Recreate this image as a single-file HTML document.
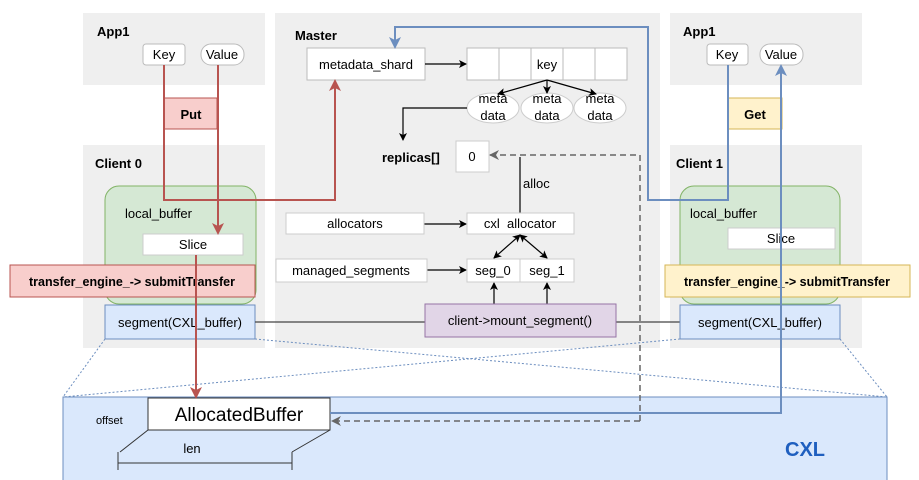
<!DOCTYPE html>
<html><head><meta charset="utf-8"><style>
html,body{margin:0;padding:0;background:#fff;width:919px;height:480px;overflow:hidden}
text{font-family:"Liberation Sans",sans-serif;font-size:13px;fill:#000}
.b{font-weight:bold}
</style></head><body>
<svg width="919" height="480" viewBox="0 0 919 480" xmlns="http://www.w3.org/2000/svg">
<defs>
<marker id="ak" markerWidth="8" markerHeight="8" refX="7" refY="4" orient="auto-start-reverse" markerUnits="userSpaceOnUse"><path d="M0,0 L8,4 L0,8 L2,4z" fill="#000"/></marker>
<marker id="ar" markerWidth="12" markerHeight="12" refX="10" refY="6" orient="auto" markerUnits="userSpaceOnUse"><path d="M0,0 L12,6 L0,12 L3,6z" fill="#b85450"/></marker>
<marker id="ab" markerWidth="12" markerHeight="12" refX="10" refY="6" orient="auto" markerUnits="userSpaceOnUse"><path d="M0,0 L12,6 L0,12 L3,6z" fill="#6c8ebf"/></marker>
<marker id="ag" markerWidth="10" markerHeight="10" refX="9" refY="5" orient="auto" markerUnits="userSpaceOnUse"><path d="M0,0 L10,5 L0,10 L3,5z" fill="#666"/></marker>
</defs>
<rect x="83" y="13" width="182" height="72" fill="#efefef"/>
<rect x="83" y="145" width="182" height="203" fill="#efefef"/>
<rect x="275" y="13" width="385" height="335" fill="#efefef"/>
<rect x="670" y="13" width="192" height="72" fill="#efefef"/>
<rect x="670" y="145" width="192" height="203" fill="#efefef"/>
<text x="97" y="36" class="b">App1</text>
<text x="95" y="168" class="b">Client 0</text>
<text x="295" y="40" class="b">Master</text>
<text x="683" y="36" class="b">App1</text>
<text x="676" y="168" class="b">Client 1</text>
<rect x="63" y="397" width="824" height="85" fill="#dae8fc" stroke="#6c8ebf"/>
<text x="785" y="456" style="font-size:20px;font-weight:bold;fill:#1f5fbf">CXL</text>
<g stroke="#6c8ebf" stroke-dasharray="2,2" fill="none">
<line x1="105" y1="339" x2="63" y2="397"/><line x1="255" y1="339" x2="887" y2="397"/>
<line x1="680" y1="339" x2="63" y2="397"/><line x1="840" y1="339" x2="887" y2="397"/>
</g>
<rect x="143" y="44" width="42" height="21" rx="3" fill="#fff" stroke="#bbb"/><text x="164" y="59" text-anchor="middle">Key</text>
<rect x="201" y="44" width="43" height="21" rx="10" fill="#fff" stroke="#bbb"/><text x="222" y="59" text-anchor="middle">Value</text>
<rect x="164" y="98" width="53" height="31" fill="#f8cecc" stroke="#b85450"/><text x="191" y="119" text-anchor="middle" class="b">Put</text>
<rect x="105" y="186" width="151" height="118" rx="14" fill="#d5e8d4" stroke="#82b366"/>
<text x="125" y="218">local_buffer</text>
<rect x="143" y="234" width="100" height="21" fill="#fff" stroke="#ccc"/><text x="193" y="249" text-anchor="middle">Slice</text>
<rect x="10" y="265" width="245" height="32" fill="#f8cecc" stroke="#b85450"/><text x="132" y="286" text-anchor="middle" class="b" style="font-size:12.5px">transfer_engine_-&gt; submitTransfer</text>
<rect x="105" y="305" width="150" height="34" fill="#dae8fc" stroke="#6c8ebf"/><text x="180" y="327" text-anchor="middle">segment(CXL_buffer)</text>
<rect x="307" y="48" width="118" height="32" fill="#fff" stroke="#bbb"/><text x="366" y="69" text-anchor="middle">metadata_shard</text>
<g fill="#fff" stroke="#bbb"><rect x="467" y="48" width="32" height="32"/><rect x="499" y="48" width="32" height="32"/><rect x="531" y="48" width="32" height="32"/><rect x="563" y="48" width="32" height="32"/><rect x="595" y="48" width="32" height="32"/></g>
<text x="547" y="69" text-anchor="middle">key</text>
<g fill="#fff" stroke="#ccc"><ellipse cx="493" cy="108" rx="26" ry="15"/><ellipse cx="547" cy="108" rx="26" ry="15"/><ellipse cx="600" cy="108" rx="26" ry="15"/></g>
<g text-anchor="middle"><text x="493" y="103">meta</text><text x="493" y="120">data</text><text x="547" y="103">meta</text><text x="547" y="120">data</text><text x="600" y="103">meta</text><text x="600" y="120">data</text></g>
<g stroke="#000" fill="none" stroke-width="1.2">
<line x1="425" y1="64" x2="466" y2="64" marker-end="url(#ak)"/>
<line x1="547" y1="80" x2="498" y2="94" marker-end="url(#ak)"/>
<line x1="547" y1="80" x2="547" y2="93" marker-end="url(#ak)"/>
<line x1="547" y1="80" x2="596" y2="94" marker-end="url(#ak)"/>
<polyline points="467,108 403,108 403,140" marker-end="url(#ak)"/>
<line x1="424" y1="224" x2="466" y2="224" marker-end="url(#ak)"/>
<line x1="427" y1="270" x2="466" y2="270" marker-end="url(#ak)"/>
<line x1="520" y1="213" x2="520" y2="157"/>
<line x1="520" y1="235" x2="494" y2="258" marker-end="url(#ak)" marker-start="url(#ak)"/>
<line x1="520" y1="235" x2="547" y2="258" marker-end="url(#ak)" marker-start="url(#ak)"/>
<line x1="494" y1="304" x2="494" y2="283" marker-end="url(#ak)"/>
<line x1="547" y1="304" x2="547" y2="283" marker-end="url(#ak)"/>
</g>
<g stroke="#444" stroke-width="1.2"><line x1="255" y1="322" x2="425" y2="322"/><line x1="616" y1="322" x2="680" y2="322"/></g>
<text x="382" y="162" class="b">replicas[]</text>
<rect x="456" y="141" width="33" height="31" fill="#fff" stroke="#ccc"/><text x="472" y="161" text-anchor="middle">0</text>
<text x="523" y="188">alloc</text>
<rect x="286" y="213" width="138" height="21" fill="#fff" stroke="#ccc"/><text x="355" y="228" text-anchor="middle">allocators</text>
<rect x="467" y="213" width="107" height="21" fill="#fff" stroke="#ccc"/><text x="520" y="228" text-anchor="middle">cxl&#160; allocator</text>
<rect x="276" y="259" width="151" height="23" fill="#fff" stroke="#ccc"/><text x="351" y="275" text-anchor="middle">managed_segments</text>
<rect x="467" y="259" width="53" height="23" fill="#fff" stroke="#ccc"/><text x="493" y="275" text-anchor="middle">seg_0</text>
<rect x="520" y="259" width="54" height="23" fill="#fff" stroke="#ccc"/><text x="547" y="275" text-anchor="middle">seg_1</text>
<rect x="425" y="304" width="191" height="33" fill="#e1d5e7" stroke="#9673a6"/><text x="520" y="325" text-anchor="middle">client-&gt;mount_segment()</text>
<rect x="707" y="44" width="41" height="21" rx="3" fill="#fff" stroke="#bbb"/><text x="727" y="59" text-anchor="middle">Key</text>
<rect x="760" y="44" width="43" height="21" rx="10" fill="#fff" stroke="#bbb"/><text x="781" y="59" text-anchor="middle">Value</text>
<rect x="728" y="98" width="54" height="31" fill="#fff2cc" stroke="#d6b656"/><text x="755" y="119" text-anchor="middle" class="b">Get</text>
<rect x="680" y="186" width="160" height="118" rx="14" fill="#d5e8d4" stroke="#82b366"/>
<text x="690" y="218">local_buffer</text>
<rect x="728" y="228" width="107" height="21" fill="#fff" stroke="#ccc"/><text x="781" y="243" text-anchor="middle">Slice</text>
<rect x="665" y="265" width="245" height="32" fill="#fff2cc" stroke="#d6b656"/><text x="787" y="286" text-anchor="middle" class="b" style="font-size:12.5px">transfer_engine_-&gt; submitTransfer</text>
<rect x="680" y="305" width="160" height="34" fill="#dae8fc" stroke="#6c8ebf"/><text x="760" y="327" text-anchor="middle">segment(CXL_buffer)</text>
<rect x="148" y="398" width="182" height="32" fill="#fff" stroke="#333"/><text x="239" y="421" text-anchor="middle" style="font-size:19px">AllocatedBuffer</text>
<text x="96" y="424" style="font-size:11px">offset</text>
<g stroke="#333" fill="none"><line x1="148" y1="430" x2="120" y2="452"/><line x1="330" y1="430" x2="292" y2="452"/><line x1="118" y1="463" x2="292" y2="463"/><line x1="118" y1="452" x2="118" y2="470"/><line x1="292" y1="452" x2="292" y2="470"/></g>
<text x="192" y="453" text-anchor="middle">len</text>
<polyline points="640,421 640,155 490,155" fill="none" stroke="#666" stroke-width="1.5" stroke-dasharray="6,4" marker-end="url(#ag)"/>
<line x1="640" y1="421" x2="332" y2="421" stroke="#666" stroke-width="1.5" stroke-dasharray="6,4" marker-end="url(#ag)"/>
<g stroke="#b85450" stroke-width="2" fill="none">
<polyline points="164,65 164,200 335,200 335,81" marker-end="url(#ar)"/>
<line x1="218" y1="65" x2="218" y2="233" marker-end="url(#ar)"/>
<line x1="196" y1="255" x2="196" y2="397" marker-end="url(#ar)"/>
</g>
<g stroke="#6c8ebf" stroke-width="2" fill="none">
<polyline points="728,65 728,200 648,200 648,27 395,27 395,47" marker-end="url(#ab)"/>
<polyline points="330,413 781,413 781,66" marker-end="url(#ab)"/>
</g>
</svg>
</body></html>
